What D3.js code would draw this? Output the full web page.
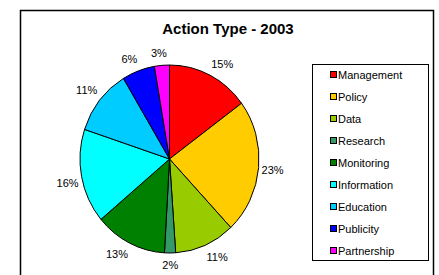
<!DOCTYPE html>
<html>
<head>
<meta charset="utf-8">
<script src="https://cdn.jsdelivr.net/npm/d3@7"></script>
<style>
  body { margin: 0; background: #fff; }
  svg { display: block; }
</style>
</head>
<body>
<div id="chart"></div>
<script>
// Action types, percent share for 2003
const categories = ["Management", "Policy", "Data", "Research", "Monitoring",
                    "Information", "Education", "Publicity", "Partnership"];
const values = [14.9, 23.1, 10.9, 2.0, 13.0, 16.2, 11.3, 5.9, 2.7];
const colors = ["#FF0000", "#FFCC00", "#99CC00", "#339966", "#008000",
                "#00FFFF", "#00CCFF", "#0000FF", "#FF00FF"];
const title = "Action Type - 2003";

const width = 439, height = 275;
const font = "Arial, 'Liberation Sans', sans-serif";

const svg = d3.select("#chart").append("svg")
  .attr("width", width)
  .attr("height", height);

// outer chart frame (bottom edge runs off the picture)
svg.append("rect")
  .attr("x", 20.5).attr("y", 10.5)
  .attr("width", 413).attr("height", 290)
  .attr("fill", "#fff")
  .attr("stroke", "#000")
  .attr("stroke-width", 1.5);

svg.append("text")
  .attr("x", 228).attr("y", 34)
  .attr("text-anchor", "middle")
  .attr("font-family", font)
  .attr("font-size", 15)
  .attr("font-weight", "bold")
  .text(title);

/*
Pie: excel draws it a touch taller than wide
*/
const cx = 169.5, cy = 159;
const rx = 89.5, ry = 94;

const pie = d3.pie().sort(null).value(d => d);
const arcs = pie(values);
const arc = d3.arc().innerRadius(0).outerRadius(ry);

const g = svg.append("g")
  .attr("transform", `translate(${cx},${cy}) scale(${rx / ry},1)`);

g.selectAll("path")
  .data(arcs)
  .enter()
  .append("path")
  .attr("d", arc)
  .attr("fill", (d, i) => colors[i])
  .attr("stroke", "#000")
  .attr("stroke-width", 1)
  .attr("vector-effect", "non-scaling-stroke");

// labels just outside the rim; the box is pushed off the rim point
// by (nearly) its half size, like excel's "outside end"
const fmt = v => Math.round(v) + "%";
const labelFont = 11;
const gapX = 3, gapY = 5.5, halfH = 6.5;
const clamp = v => Math.max(-1, Math.min(1, v));

svg.selectAll("text.lbl")
  .data(arcs)
  .enter()
  .append("text")
  .attr("class", "lbl")
  .attr("font-family", font)
  .attr("font-size", labelFont)
  .attr("fill", "#000")
  .attr("text-anchor", "middle")
  .attr("dominant-baseline", "central")
  .text(d => fmt(d.data))
  .each(function (d) {
    const a = (d.startAngle + d.endAngle) / 2;
    const s = Math.sin(a), c = -Math.cos(a);
    const w = this.getComputedTextLength();
    const x = cx + rx * s + gapX * s + clamp(s * 4) * w / 2;
    const y = cy + ry * c + gapY * c + clamp(c * 4) * halfH;
    d3.select(this).attr("x", x).attr("y", y);
  });

/*
Legend
*/
const legend = svg.append("g");
legend.append("rect")
  .attr("x", 312.5).attr("y", 64.5)
  .attr("width", 116).attr("height", 196)
  .attr("fill", "#fff")
  .attr("stroke", "#000")
  .attr("stroke-width", 1);

const legendY = d3.scalePoint()
  .domain(categories)
  .range([75, 251]);

const items = legend.selectAll("g.item")
  .data(categories)
  .enter()
  .append("g")
  .attr("class", "item")
  .attr("transform", d => `translate(0,${legendY(d)})`);

items.append("rect")
  .attr("x", 330.5).attr("y", -3.5)
  .attr("width", 6).attr("height", 6)
  .attr("fill", (d, i) => colors[i])
  .attr("stroke", "#000")
  .attr("stroke-width", 1);

items.append("text")
  .attr("x", 338)
  .attr("y", 0)
  .attr("dominant-baseline", "central")
  .attr("font-family", font)
  .attr("font-size", 11)
  .text(d => d);
</script>
</body>
</html>
